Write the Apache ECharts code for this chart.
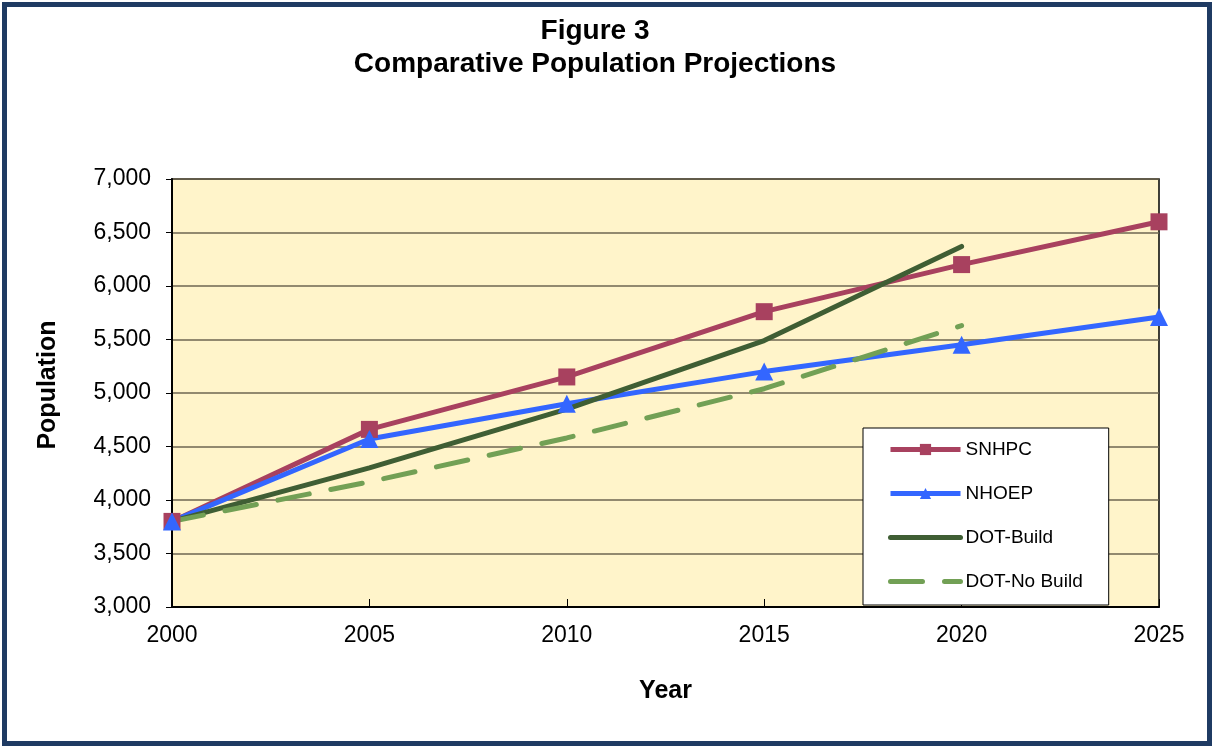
<!DOCTYPE html>
<html>
<head>
<meta charset="utf-8">
<script src="https://cdn.jsdelivr.net/npm/echarts@6/dist/echarts.min.js"></script>
<style>
  html, body { margin: 0; padding: 0; background: #fff; }
  #frame { position: absolute; left: 2px; top: 2px; width: 1200px; height: 734px; border: 5px solid #1F3B63; }
  #chart { position: absolute; left: 0; top: 0; width: 1214px; height: 748px; }
</style>
</head>
<body>
<div id="frame"></div>
<div id="chart"></div>
<script>
// Projected population by year for each source
const years = ['2000', '2005', '2010', '2015', '2020', '2025'];
const snhpc = [3800, 4660, 5150, 5760, 6200, 6600];
const nhoep = [3800, 4570, 4900, 5200, 5450, 5710];
const dotBuild = [3800, 4300, 4850, 5490, 6370, null];
const dotNoBuild = [3800, 4170, 4580, 5040, 5630, null];

const FONT = 'Liberation Sans, Arial, sans-serif';
const NO_MARKER = { color: 'rgba(0,0,0,0)', borderWidth: 0 };

const chart = echarts.init(document.getElementById('chart'));
chart.setOption({
  animation: false,
  textStyle: { fontFamily: FONT },
  title: {
    text: 'Figure 3\nComparative Population Projections',
    left: 590, top: 10, textAlign: 'center',
    textStyle: { fontFamily: FONT, fontSize: 28, fontWeight: 'bold', color: '#000', lineHeight: 33 }
  },
  grid: {
    left: 172, top: 179, right: 55, bottom: 141,
    show: true, backgroundColor: '#FFF4CA', borderColor: '#000', borderWidth: 1.5
  },
  legend: {
    orient: 'vertical',
    left: 863, top: 428,
    padding: [12, 26, 14, 25],
    backgroundColor: '#fff', borderColor: '#000', borderWidth: 1,
    itemWidth: 70, itemHeight: 14, itemGap: 25,
    lineStyle: { width: 5 },
    textStyle: { fontFamily: FONT, fontSize: 19, color: '#000' },
    data: [
      { name: 'SNHPC' },
      { name: 'NHOEP' },
      { name: 'DOT-Build', itemStyle: NO_MARKER },
      { name: 'DOT-No Build', itemStyle: NO_MARKER }
    ]
  },
  xAxis: {
    type: 'category', data: years, boundaryGap: false,
    name: 'Year', nameLocation: 'middle', nameGap: 72,
    nameTextStyle: { fontFamily: FONT, fontSize: 25, fontWeight: 'bold', color: '#000' },
    axisLine: { lineStyle: { color: '#000', width: 2 } },
    axisTick: { show: true, inside: true, length: 8, lineStyle: { color: '#000' } },
    axisLabel: { fontSize: 23, color: '#000', margin: 17 },
    splitLine: { show: false }
  },
  yAxis: {
    type: 'value', min: 3000, max: 7000, interval: 500,
    name: 'Population', nameLocation: 'middle', nameGap: 111, nameRotate: 90,
    nameTextStyle: { fontFamily: FONT, fontSize: 25, fontWeight: 'bold', color: '#000', padding: [0, 0, 0, 16] },
    axisLine: { show: true, lineStyle: { color: '#000', width: 2 } },
    axisTick: { show: true, length: 6, lineStyle: { color: '#000' } },
    axisLabel: { fontSize: 23, color: '#000', margin: 21,
      formatter: v => v.toLocaleString('en-US') },
    splitLine: { lineStyle: { color: '#6E6650', width: 1.5 } }
  },
  series: [
    { name: 'SNHPC', type: 'line', data: snhpc, symbol: 'rect', symbolSize: 17,
      itemStyle: { color: '#A8415F' }, lineStyle: { color: '#A8415F', width: 5 } },
    { name: 'NHOEP', type: 'line', data: nhoep, symbol: 'triangle', symbolSize: 18,
      itemStyle: { color: '#3366FF' }, lineStyle: { color: '#3366FF', width: 5 } },
    { name: 'DOT-Build', type: 'line', data: dotBuild, symbol: 'none', connectNulls: false,
      itemStyle: { color: '#3F5E34' }, lineStyle: { color: '#3F5E34', width: 5, cap: 'round' } },
    { name: 'DOT-No Build', type: 'line', data: dotNoBuild, symbol: 'none', connectNulls: false,
      itemStyle: { color: '#72A055' }, lineStyle: { color: '#72A055', width: 5, cap: 'round', type: [32, 22] } }
  ]
});
</script>
</body>
</html>
